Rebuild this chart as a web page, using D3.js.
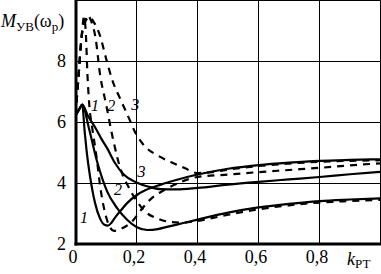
<!DOCTYPE html>
<html><head><meta charset="utf-8">
<script src="https://cdn.jsdelivr.net/npm/d3@7"></script>
<style>
body{margin:0;background:#fff}
svg{display:block}
</style>
</head><body>
<script>
// ---- data ----
const xTicks = [0, 0.2, 0.4, 0.6, 0.8];
const xTickLabels = ["0", "0,2", "0,4", "0,6", "0,8"];
const yTicks = [2, 4, 6, 8];
const yTickLabels = ["2", "4", "6", "8"];
const gridX = [0.2, 0.4, 0.6, 0.8, 1.0];
const gridY = [4, 6, 8, 10];

// solid curves (k, M)
const solid1 = [[0,6.22],[0.012,6.42],[0.022,6.58],[0.03,5.7],[0.036,5.1],[0.048,4.2],[0.064,3.35],[0.08,2.85],[0.095,2.63],[0.106,2.6],[0.118,2.7],[0.132,2.9],[0.146,3.07],[0.17,3.35],[0.2,3.6],[0.23,3.77],[0.28,3.95],[0.33,4.1],[0.4,4.28],[0.5,4.47],[0.6,4.59],[0.7,4.67],[0.8,4.73],[0.9,4.76],[1.0,4.78]];
const solid2 = [[0,6.22],[0.012,6.42],[0.022,6.58],[0.044,5.8],[0.071,4.7],[0.104,3.72],[0.137,3.17],[0.17,2.79],[0.2,2.56],[0.235,2.46],[0.27,2.49],[0.3,2.56],[0.35,2.68],[0.4,2.8],[0.5,3.03],[0.6,3.2],[0.7,3.32],[0.8,3.41],[0.9,3.46],[1.0,3.5]];
const solid3 = [[0,6.22],[0.012,6.42],[0.022,6.58],[0.041,6.2],[0.066,5.8],[0.085,5.45],[0.104,5.14],[0.13,4.65],[0.159,4.27],[0.2,4.02],[0.24,3.88],[0.28,3.8],[0.33,3.79],[0.4,3.84],[0.5,3.95],[0.6,4.04],[0.7,4.12],[0.8,4.2],[0.9,4.29],[1.0,4.37]];

// dashed curves (k, M)
const dashed1 = [[0,6.22],[0.01,7.5],[0.02,8.8],[0.028,9.45],[0.034,8.9],[0.039,7.6],[0.045,6.6],[0.055,5.8],[0.067,5.0],[0.083,3.75],[0.103,2.8],[0.126,2.43],[0.15,2.5],[0.19,2.79],[0.22,3.18],[0.254,3.54],[0.287,3.75],[0.33,3.97],[0.4,4.2],[0.5,4.28],[0.6,4.36],[0.7,4.43],[0.8,4.5],[0.9,4.58],[1.0,4.65]];
const dashed2 = [[0,6.22],[0.01,7.5],[0.02,8.8],[0.03,9.35],[0.04,9.5],[0.052,9.3],[0.066,8.75],[0.08,7.6],[0.1,6.6],[0.125,5.35],[0.148,4.45],[0.175,3.85],[0.205,3.35],[0.23,3.05],[0.265,2.85],[0.3,2.74],[0.35,2.7],[0.4,2.76],[0.5,2.96],[0.6,3.14],[0.7,3.27],[0.8,3.36],[0.9,3.41],[1.0,3.45]];
const dashed3 = [[0,6.22],[0.01,7.5],[0.02,8.8],[0.032,9.3],[0.046,9.45],[0.062,9.25],[0.08,8.85],[0.1,8.1],[0.12,7.4],[0.145,6.8],[0.17,6.25],[0.197,5.64],[0.23,5.18],[0.267,4.92],[0.312,4.69],[0.356,4.5],[0.4,4.33],[0.45,4.36],[0.5,4.44],[0.6,4.56],[0.7,4.64],[0.8,4.7],[0.9,4.73],[1.0,4.75]];

// curve labels (k, M, text)
const upperLabels = [[0.064,6.35,"1"],[0.117,6.35,"2"],[0.196,6.4,"3"]];
const lowerLabels = [[0.028,2.7,"1"],[0.139,3.6,"2"],[0.216,4.2,"3"]];

// ---- chart ----
const FONT = "Liberation Serif, Tinos, Times New Roman, Times, DejaVu Serif, Noto Serif, serif";
const W = 381, H = 274;
const svg = d3.select("body").append("svg").attr("width", W).attr("height", H)
  .style("font-family", FONT);
const x = d3.scaleLinear().domain([0, 1]).range([75.5, 380.5]);
const y = d3.scaleLinear().domain([2, 10]).range([244, 0.3]);

// grid
svg.append("g").selectAll("line").data(gridX).join("line")
  .attr("x1", d => Math.round(x(d)) - 0.5).attr("x2", d => Math.round(x(d)) - 0.5)
  .attr("y1", y(10)).attr("y2", y(2))
  .attr("stroke", "#000").attr("stroke-width", 1);
svg.append("g").selectAll("line").data(gridY).join("line")
  .attr("x1", x(0)).attr("x2", x(1))
  .attr("y1", d => Math.round(y(d)) + 0.5).attr("y2", d => Math.round(y(d)) + 0.5)
  .attr("stroke", "#000").attr("stroke-width", 1);

// curves
svg.append("clipPath").attr("id", "c").append("rect")
  .attr("x", x(0)).attr("y", 0).attr("width", x(1) - x(0)).attr("height", y(2));
const line = d3.line().x(d => x(d[0])).y(d => y(d[1])).curve(d3.curveMonotoneX);
const g = svg.append("g").attr("clip-path", "url(#c)");
[solid1, solid2, solid3].forEach(s => g.append("path").attr("d", line(s))
  .attr("fill", "none").attr("stroke", "#000").attr("stroke-width", 2.2));
[dashed1, dashed2, dashed3].forEach(s => g.append("path").attr("d", line(s))
  .attr("fill", "none").attr("stroke", "#000").attr("stroke-width", 2.2)
  .attr("stroke-dasharray", "7,6"));

// thick axes
svg.append("line").attr("x1", x(0) + 0.5).attr("x2", x(0) + 0.5).attr("y1", 0).attr("y2", y(2) + 1.5)
  .attr("stroke", "#000").attr("stroke-width", 3);
svg.append("line").attr("x1", x(0) - 1).attr("x2", W).attr("y1", y(2)).attr("y2", y(2))
  .attr("stroke", "#000").attr("stroke-width", 3);

// tick labels
svg.append("g").selectAll("text").data(xTicks).join("text")
  .attr("x", d => x(d) - 2.5).attr("y", 263)
  .attr("text-anchor", "middle").style("font-family", FONT).style("font-size", "18px")
  .text((d, i) => xTickLabels[i]);
svg.append("g").selectAll("text").data(yTicks).join("text")
  .attr("x", 66).attr("y", d => y(d) + 6)
  .attr("text-anchor", "end").style("font-family", FONT).style("font-size", "18px")
  .text((d, i) => yTickLabels[i]);

// curve labels
svg.append("g").selectAll("text").data(upperLabels.concat(lowerLabels)).join("text")
  .attr("x", d => x(d[0])).attr("y", d => y(d[1]))
  .attr("text-anchor", "middle").style("font-family", FONT).style("font-size", "16px")
  .style("font-style", "italic").text(d => d[2]);

// axis titles
const yt = svg.append("text").attr("x", 1).attr("y", 27).style("font-family", FONT).style("font-size", "18px");
yt.append("tspan").style("font-style", "italic").text("M");
yt.append("tspan").style("font-size", "13px").attr("dy", 4).text("УВ");
yt.append("tspan").attr("dy", -4).text("(ω");
yt.append("tspan").style("font-size", "13px").attr("dy", 4).text("р");
yt.append("tspan").attr("dy", -4).text(")");

const xt = svg.append("text").attr("x", 347).attr("y", 265).style("font-family", FONT).style("font-size", "18px");
xt.append("tspan").style("font-style", "italic").text("k");
xt.append("tspan").style("font-size", "13px").attr("dy", 3).text("РТ");
</script>
</body></html>
